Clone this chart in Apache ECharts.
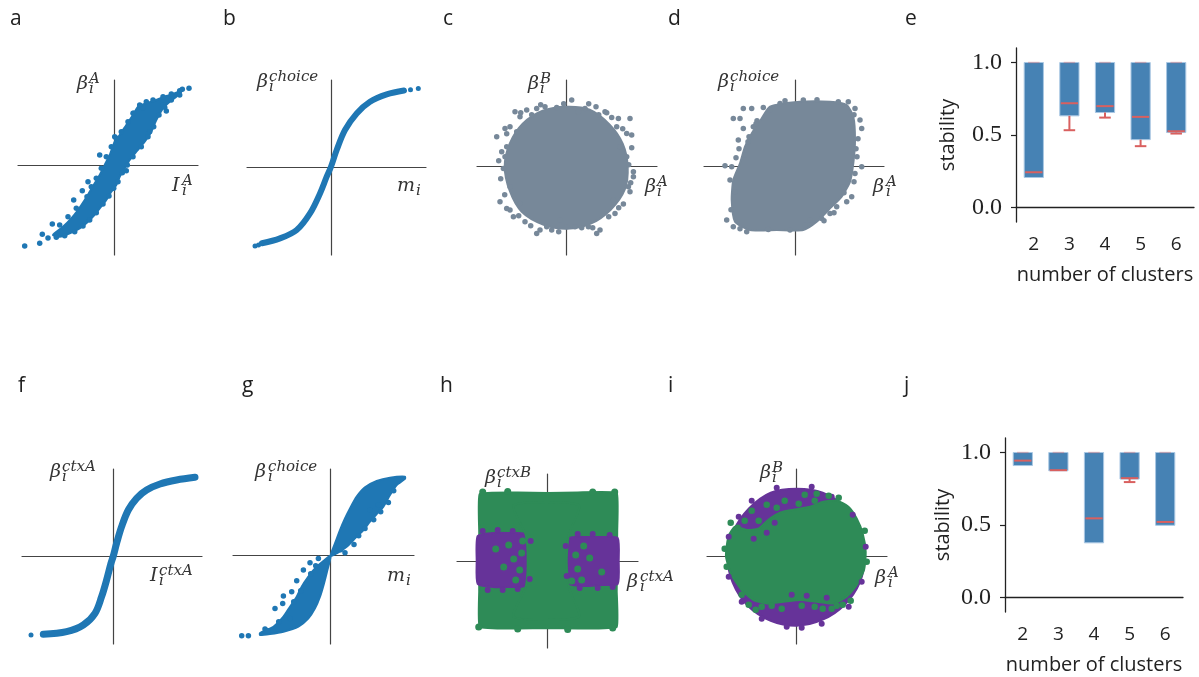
<!DOCTYPE html>
<html><head><meta charset="utf-8">
<script src="https://cdn.jsdelivr.net/npm/echarts@6/dist/echarts.min.js"></script>
<style>html,body{margin:0;background:#fff}#c{width:1199px;height:677px}</style>
</head><body><div id="c"></div>
<script>
// ---------- data (arbitrary units) ----------
// panel a : beta_A vs I_A (dense band + loose points)
const aBand = [[-6.1,-7.0],[-5.1,-6.17],[-4.27,-5.33],[-3.6,-4.5],[-2.93,-3.5],[-2.43,-2.67],[-1.93,-1.83],[-1.43,-1.0],[-0.93,0],[-0.43,1.0],[0.07,2.33],[0.57,3.0],[1.23,4.0],[1.9,5.0],[2.4,5.83],[3.23,6.17],[4.23,6.5],[5.23,6.9],[6.23,7.23],[6.9,7.57],[6.23,6.83],[5.57,6.33],[4.9,5.67],[4.23,4.5],[3.73,3.33],[3.07,2.33],[2.23,1.33],[1.57,0.5],[1.07,-0.33],[0.57,-1.17],[0.23,-2.0],[-0.27,-2.67],[-0.77,-3.5],[-1.43,-4.33],[-2.1,-5.17],[-2.77,-5.83],[-3.43,-6.33],[-4.43,-6.83],[-5.43,-7.17]];
const aDots = [[-8.93,-8.1],[-7.43,-7.83],[-7.17,-6.93],[-6.6,-7.3],[-6.17,-5.9],[-5.43,-6.0],[-4.03,-3.5],[-3.17,-2.57],[-2.6,-1.67],[-1.43,1.0],[0.07,2.83],[1.23,-0.57],[4.9,6.0],[2.9,5.73],[7.5,7.67],[6.83,7.57],[5.23,5.4],[3.57,3.33],[1.9,5.17],
 [-4.6,-5.17],[-3.77,-4.33],[-2.7,-3.17],[-2.27,-2.17],[-1.77,-1.33],[-1.27,-0.33],[-0.77,0.83],[-0.27,1.83],[0.23,2.67],[0.73,3.33],[1.4,4.33],[1.97,5.17],[2.57,6.0],[3.23,6.33],[3.9,6.5],[4.9,6.83],[5.73,7.1],[6.57,7.43],
 [6.57,7.0],[5.73,6.5],[5.07,5.77],[4.5,5.0],[3.97,3.83],[3.4,2.83],[2.73,1.83],[1.9,0.83],[1.33,0],[0.83,-0.77],[0.4,-1.67],[-0.03,-2.33],[-0.5,-3.1],[-1.1,-3.9],[-1.77,-4.77],[-2.43,-5.5],[-3.1,-6.1],[-3.93,-6.67],[-4.93,-7.07],[-5.77,-7.23]];
// panel b : beta_choice vs m
const bCurve = [[-6.9,-7.55],[-5.1,-7.07],[-3.43,-6.23],[-2.1,-4.57],[-1.1,-2.57],[-0.43,-0.9],[0,0.1],[0.57,1.77],[1.4,3.77],[2.57,5.43],[3.9,6.6],[5.57,7.33],[7.3,7.72]];
const bDots = [[-7.6,-7.83],[-7.25,-7.72],[7.95,7.8],[8.73,7.93]];
// panel c : beta_B vs beta_A
const cCore = [[6.1,0],[5.6,2.3],[4.3,4.2],[2.3,5.7],[0,6.0],[-2.4,5.6],[-4.4,4.3],[-5.7,2.3],[-6.2,0],[-5.7,-2.4],[-4.5,-4.5],[-2.3,-5.8],[0,-6.2],[2.4,-5.7],[4.4,-4.3],[5.8,-2.3]];
const cDots = [[-7.0,3.0],[-6.67,-3.5],[-6.0,-4.17],[-5.17,5.5],[-4.67,5.0],[-3.0,5.83],[-2.17,6.0],[0.5,6.67],[1.83,5.83],[2.93,6.0],[3.83,5.5],[4.5,4.93],[5.17,4.83],[6.33,4.83],[6.5,3.17],[6.67,-0.5],[6.67,-1.0],[6.33,-2.5],[5.67,-3.73],[4.83,-4.67],[3.33,-6.33],[3.0,-6.67],[2.17,-6.0],[0.83,-6.0],[0,-6.0],[-1.5,-6.33],[-2.67,-6.33],[-3.0,-6.67],[-4.17,-5.5],[-5.33,-5.0],[-5.67,-4.33],[-6.33,-0.17],[-6.17,1.0],[-6.0,2.0],[-6.17,3.83],[-5.67,4.0],[-4.0,5.67],[-1.0,5.93],[1.17,5.5],[5.33,2.0],[6.0,1.0],[6.17,-2.0],[4.67,-3.33],[-0.67,-5.33],[-4.67,-3.67],[6.0,3.33],[-5.67,-2.0],[-3.5,5.2],[3.2,5.2],[5.0,4.0],[-5.0,3.5],[4.2,-5.0],[-2.0,-6.0],[1.5,-6.1],[6.2,0.2],
 [-6.5,1.5],[-6.6,-1.2],[-6.2,-2.8],[-4.8,-4.9],[-3.6,-5.9],[-0.8,-6.5],[2.6,-6.1],[5.2,-4.1],[6.4,-1.6],[6.5,1.9],[5.6,3.8],[4.0,5.4],[2.2,6.3],[-0.3,6.3],[-2.6,6.2],[-4.6,5.4],[-6.0,3.3],[-6.8,0.6]];
// panel d : beta_choice vs beta_A
const dCore = [[-2.5,6.0],[0.5,6.5],[3.5,6.5],[5.17,6.17],[5.83,5.0],[6.0,2.67],[5.83,0.33],[5.5,-1.5],[4.67,-3.0],[3.5,-4.17],[2.17,-5.5],[0.83,-6.33],[-1.83,-6.33],[-4.5,-6.33],[-6.0,-5.5],[-6.33,-3.33],[-6.17,-1.33],[-5.5,0.33],[-5.0,2.0],[-4.33,3.33],[-3.33,4.83]];
const dDots = [[-5.17,5.83],[-4.33,5.83],[-3.17,5.93],[-6.17,4.83],[-5.5,4.83],[-5.17,3.83],[-5.67,2.67],[-5.0,1.17],[-7.0,0.1],[-6.33,0],[-6.5,-1.33],[-6.83,-5.33],[-6.17,-6.0],[-4.83,-6.5],[-2.67,-6.27],[-0.5,-6.33],[1.0,-5.83],[1.5,-5.33],[2.67,-5.17],[3.5,-4.67],[4.17,-4.0],[5.17,-3.5],[5.67,-3.0],[6.0,-0.67],[6.67,0],[6.67,3.83],[6.5,4.67],[6.0,5.83],[5.33,6.5],[4.33,6.5],[0.83,6.67],[-1.5,6.33],[-2.5,5.67],[-4.17,4.0],[4.83,-2.0],[-3.8,4.6],[-4.7,2.5],[-6.0,-2.5],[-5.5,-6.2],[6.1,1.8],[5.9,-1.5],[-1.0,6.6],[2.2,6.7],
 [-5.9,0.9],[-5.6,1.8],[-4.6,3.0],[-3.9,4.3],[-6.4,-4.3],[3.9,-4.6],[2.9,-5.4],[4.9,-2.6],[6.2,1.0],[6.3,2.8],[5.9,5.2]];
// panel f : beta_ctxA vs I_ctxA
const fCurve = [[-7.0,-7.83],[-4.67,-7.57],[-3.0,-6.9],[-1.83,-5.73],[-1.17,-4.07],[-0.67,-2.4],[-0.23,-0.73],[0,0],[0.33,1.27],[0.83,2.93],[1.5,4.6],[2.33,5.77],[3.33,6.6],[4.67,7.2],[6.33,7.6],[8.17,7.87]];
const fDots = [[-8.23,-7.9]];
// panel g : beta_choice vs m (thick band)
const gBandTop = [[0,0],[0.43,1.23],[0.93,2.57],[1.43,3.73],[1.93,4.73],[2.6,5.9],[3.43,6.83],[4.6,7.47],[5.93,7.8],[7.43,7.9],[7.43,7.7],[6.6,7.07],[5.93,6.07],[5.27,4.9],[4.6,4.17],[3.93,3.4],[3.27,2.57],[2.43,1.73],[1.6,0.9],[0.6,0.23]];
const gBandBottom = [[0,0],[-0.33,-1.43],[-0.67,-2.77],[-1.07,-4.1],[-1.57,-5.27],[-2.23,-6.27],[-3.23,-7.1],[-4.73,-7.6],[-6.07,-7.83],[-7.07,-7.93],[-7.07,-7.73],[-5.73,-7.1],[-4.73,-6.1],[-4.07,-5.1],[-3.4,-4.1],[-2.9,-3.1],[-2.23,-2.1],[-1.57,-1.27],[-0.73,-0.53]];
const gDots = [[-8.9,-8.0],[-8.23,-8.0],[-6.57,-7.33],[-5.57,-5.27],[-4.73,-4.03],[-3.9,-3.6],[-3.4,-2.5],[-4.8,-4.77],[-2.07,-0.7],[-1.23,-0.27],[-2.73,-1.43],[1.43,0.3],[2.33,1.13],[3.43,2.73],[4.77,5.07],[5.77,5.33],[3.93,4.57],[-4.07,-6.27],[-5.2,-6.6],[-3.0,-3.5],[-2.0,-1.8],[-3.7,-4.6],[2.8,2.0],[4.3,3.6],[5.0,4.4],[6.3,6.5],[-6.3,-7.5],[1.0,0.6],[-1.5,-1.0]];
// panel h : beta_ctxB vs beta_ctxA
const hGreenBase = [[-6.8,6.7],[-3,6.85],[0,6.8],[3,6.85],[6.9,6.8],[6.95,3],[6.9,-3],[6.9,-6.6],[3,-6.75],[0,-6.7],[-3,-6.75],[-6.8,-6.6],[-6.85,-3],[-6.85,3]];
const hPurpleLeft = [[-7.0,2.5],[-5.5,2.8],[-4.0,2.8],[-2.3,2.7],[-2.0,1.0],[-2.0,-1.0],[-2.3,-2.5],[-4.0,-2.6],[-5.5,-2.6],[-7.0,-2.3],[-7.1,0]];
const hPurpleRight = [[2.2,2.3],[4.0,2.4],[5.5,2.4],[7.0,2.3],[7.1,0],[7.0,-2.3],[5.5,-2.4],[4.0,-2.5],[2.2,-2.3],[2.0,0]];
const hPurpleDots = [[-6.5,3.0],[-5.0,3.1],[-3.5,3.0],[-6.0,-2.9],[-4.5,-2.9],[-3.0,-2.8],[-1.7,2.0],[-1.8,-1.8],[3.0,2.7],[4.5,2.7],[6.2,2.6],[3.2,-2.7],[5.0,-2.7],[6.5,-2.6],[1.8,1.5],[1.9,-1.5]];
const hGreenColumn = [[-3.4,5.6],[3.1,5.6],[2.1,2.6],[1.9,0],[2.1,-2.6],[3.1,-5.6],[-3.4,-5.6],[-2.2,-2.6],[-2.0,0],[-2.2,2.6]];
const hGreenDots = [[-6.5,6.9],[-4.0,6.95],[4.5,6.9],[6.7,6.9],[-6.9,-6.6],[-3.0,-6.8],[2.0,-6.85],[6.5,-6.7],
 [-2.6,0.8],[-2.8,-0.9],[-3.4,0.2],[-3.9,1.6],[-3.2,-1.9],[-4.4,-0.6],[2.8,0.6],[3.0,-0.8],[3.6,1.5],[3.4,-1.9],[4.2,0.3],[-2.5,2.0],[2.4,-2.0],[-5.2,1.2],[5.4,-1.1]];
// panel i : beta_B vs beta_A
const iPurpleCore = [[6.8,0],[6.3,2.6],[4.9,4.9],[2.6,6.4],[0,6.8],[-2.6,6.4],[-4.8,4.8],[-6.3,2.6],[-6.9,0],[-6.4,-2.6],[-4.9,-4.9],[-2.6,-6.4],[0,-6.9],[2.6,-6.3],[4.8,-4.8],[6.3,-2.6]];
const iPurpleDots = [[-4.5,5.6],[-2.0,6.9],[1.5,7.0],[3.5,6.0],[5.6,4.2],[-5.8,4.0],[-6.8,2.0],[6.9,1.0],[6.5,-2.5],[5.2,-5.0],[2.5,-6.7],[-1.0,-7.0],[-3.5,-6.2],[-5.5,-4.5],[-6.8,-2.0],[0.5,-7.1],[-3.0,2.4],[-2.2,3.4],[-4.3,1.8],[1.0,-3.9],[-0.5,-3.8],[3.0,-4.1]];
const iGreenCore = [[-7.07,0],[-6.83,2.0],[-6.17,3.0],[-5.0,2.67],[-3.83,2.8],[-2.83,3.7],[-1.67,4.4],[-0.33,4.7],[1.33,5.0],[2.67,5.5],[4.0,5.6],[5.17,5.0],[6.0,3.83],[6.6,2.33],[6.9,0.5],[6.73,-1.33],[6.0,-2.83],[5.0,-4.0],[3.67,-4.67],[2.0,-4.5],[0.33,-4.33],[-1.33,-4.5],[-3.0,-4.67],[-4.33,-4.33],[-5.5,-3.33],[-6.5,-1.83]];
const iGreenDots = [[-5.2,3.6],[-4.5,4.6],[-3.8,3.6],[-3.0,5.2],[-1.2,5.6],[0.8,6.2],[2.0,6.3],[4.2,5.9],[-5.5,-3.8],[-4.8,-4.8],[-3.5,-5.0],[-1.5,-5.2],[1.8,-5.0],[3.5,-5.2],[4.6,-4.8],[5.4,-4.4],[-6.6,3.4],[6.8,2.6],[-7.2,0.8],[-7.0,-1.0],[7.0,-0.5],
 [-2.0,4.9],[0.2,5.3],[1.8,5.6],[3.2,6.1],[-4.1,-5.3],[-2.5,-4.9],[0.5,-4.9],[2.6,-5.2],[4.0,-4.9],[-5.9,2.9]];
// panels e and j : stability vs number of clusters
const clusters = ['2','3','4','5','6'];
const eQ1     = [0.207,0.632,0.655,0.468,0.517];
const eMedian = [0.243,0.719,0.699,0.625,0.526];
const eMin    = [0.207,0.533,0.620,0.423,0.510];
const eMax    = [1.0,1.0,1.0,1.0,1.0];
const jQ1     = [0.910,0.874,0.377,0.817,0.498];
const jMedian = [0.944,0.878,0.546,0.823,0.521];
const jMin    = [0.910,0.874,0.377,0.796,0.498];
const jMax    = [1.0,1.0,1.0,1.0,1.0];
const stabilityTicks = [0, 0.5, 1.0];

// ---------- layout / style ----------
const BLUE='#1f77b4', GRAY='#778899', GREEN='#2e8b57', PURPLE='#663399', BAR='#4682b4', RED='#d9605f', AX='#444';
const panels = [
 {left:18, top:80, width:180, height:175, x:[-9.6,8.4], y:[-9.0,8.5]},
 {left:247,top:80, width:179, height:175, x:[-8.4,9.5], y:[-8.73,8.77]},
 {left:477,top:80, width:180, height:175, x:[-8.97,9.03], y:[-8.83,8.67]},
 {left:704,top:80, width:180, height:175, x:[-9.1,8.9], y:[-8.83,8.67]},
 {left:22, top:469,width:180, height:175, x:[-9.13,8.87], y:[-8.8,8.7]},
 {left:233,top:469,width:181, height:175, x:[-9.77,8.33], y:[-8.83,8.67]},
 {left:457,top:474,width:181, height:174, x:[-9.07,9.03], y:[-8.7,8.7]},
 {left:707,top:469,width:180, height:175, x:[-8.97,9.03], y:[-8.73,8.77]}
];
const barGrids = [{left:1016, top:48, width:178, height:174, gap:58},{left:1005, top:438, width:178, height:174, gap:52}];

const grid=[], xAxis=[], yAxis=[], series=[];
panels.forEach((p,i)=>{
  grid.push({left:p.left, top:p.top, width:p.width, height:p.height});
  const ax = {gridIndex:i, type:'value', axisLine:{onZero:true, lineStyle:{color:AX,width:1.2}}, axisTick:{show:false}, axisLabel:{show:false}, splitLine:{show:false}};
  xAxis.push(Object.assign({}, ax, {min:p.x[0], max:p.x[1]}));
  yAxis.push(Object.assign({}, ax, {min:p.y[0], max:p.y[1]}));
});
barGrids.forEach((g,k)=>{
  const gi = panels.length + k;
  grid.push({left:g.left, top:g.top, width:g.width, height:g.height});
  xAxis.push({gridIndex:gi, type:'category', data:clusters, boundaryGap:true,
    name:'number of clusters', nameLocation:'middle', nameGap:43, nameTextStyle:{fontFamily:'Open Sans', fontSize:20, color:'#222'},
    axisLine:{lineStyle:{color:'#222', width:1.3}}, axisTick:{alignWithLabel:true, length:5, lineStyle:{color:'#222',width:1.2}},
    axisLabel:{fontFamily:'Open Sans', fontSize:19, color:'#222', margin:13}, splitLine:{show:false}});
  yAxis.push({gridIndex:gi, type:'value', min:-0.1, max:1.1,
    name:'stability', nameLocation:'middle', nameGap:g.gap, nameRotate:90, nameTextStyle:{fontFamily:'Open Sans', fontSize:20, color:'#222'},
    axisLine:{show:true, lineStyle:{color:'#222', width:1.3}}, axisTick:{show:true, length:5, customValues:stabilityTicks, lineStyle:{color:'#222',width:1.2}},
    axisLabel:{customValues:stabilityTicks, formatter:v=>v.toFixed(1), fontFamily:'Liberation Serif', fontSize:24, color:'#222', margin:14}, splitLine:{show:false}});
});

function poly(gi, pts, color, smooth){
  return {type:'custom', coordinateSystem:'cartesian2d', xAxisIndex:gi, yAxisIndex:gi, data:pts, silent:true, clip:false, animation:false,
    renderItem:(params, api)=>{
      if(params.dataIndex!==0) return null;
      return {type:'polygon', shape:{points:pts.map(q=>api.coord(q)), smooth:smooth||0}, style:{fill:color, stroke:color, lineWidth:2}};
    }};
}
function scat(gi, pts, color, size){
  return {type:'scatter', xAxisIndex:gi, yAxisIndex:gi, data:pts, symbolSize:size, itemStyle:{color:color, opacity:1}, silent:true, animation:false};
}
function curve(gi, pts, color, width){
  return {type:'line', xAxisIndex:gi, yAxisIndex:gi, data:pts, smooth:0.35, symbol:'none', lineStyle:{color:color, width:width, cap:'round'}, silent:true, animation:false};
}
function boxes(gi, q1, med, mn, mx){
  const data = clusters.map((c,k)=>[k, q1[k], med[k], mx[k], mn[k]]);
  return {type:'custom', xAxisIndex:gi, yAxisIndex:gi, data:data, encode:{x:0, y:[1,2,3,4]}, silent:true, animation:false,
    renderItem:(p, api)=>{
      const k=api.value(0);
      const pt=api.coord([k,api.value(3)]), pa=api.coord([k,api.value(1)]), pm=api.coord([k,api.value(2)]), pl=api.coord([k,api.value(4)]);
      const bw=api.size([1,0])[0]*0.54, x0=pt[0]-bw/2;
      const ch=[{type:'rect', shape:{x:x0, y:pt[1], width:bw, height:pa[1]-pt[1]}, style:{fill:BAR, stroke:'#a9c7e3', lineWidth:1}}];
      if(pl[1]-pa[1]>1){
        ch.push({type:'line', shape:{x1:pt[0], y1:pa[1], x2:pt[0], y2:pl[1]}, style:{stroke:RED, lineWidth:2}});
        ch.push({type:'line', shape:{x1:pt[0]-bw*0.3, y1:pl[1], x2:pt[0]+bw*0.3, y2:pl[1]}, style:{stroke:RED, lineWidth:2}});
      }
      ch.push({type:'line', shape:{x1:x0+1, y1:pm[1], x2:x0+bw-1, y2:pm[1]}, style:{stroke:RED, lineWidth:2}});
      ch.push({type:'line', shape:{x1:pt[0]-bw*0.3, y1:pt[1], x2:pt[0]+bw*0.3, y2:pt[1]}, style:{stroke:'rgba(217,96,95,0.35)', lineWidth:1.5}});
      return {type:'group', children:ch};
    }};
}

// a
series.push(poly(0, aBand, BLUE, 0.2), scat(0, aDots, BLUE, 5.5));
// b
series.push(curve(1, bCurve, BLUE, 6), scat(1, bDots, BLUE, 5));
// c
series.push(poly(2, cCore, GRAY, 0.3), scat(2, cDots, GRAY, 5.5));
// d
series.push(poly(3, dCore, GRAY, 0.2), scat(3, dDots, GRAY, 5.5));
// f
series.push(curve(4, fCurve, BLUE, 7), scat(4, fDots, BLUE, 5));
// g
series.push(poly(5, gBandTop, BLUE, 0.2), poly(5, gBandBottom, BLUE, 0.2), scat(5, gDots, BLUE, 5.5));
// h
series.push(poly(6, hGreenBase, GREEN, 0.1), poly(6, hPurpleLeft, PURPLE, 0.2), poly(6, hPurpleRight, PURPLE, 0.2), scat(6, hPurpleDots, PURPLE, 6),
  poly(6, hGreenColumn, GREEN, 0.2), scat(6, hGreenDots, GREEN, 7));
// i
series.push(poly(7, iPurpleCore, PURPLE, 0.3), scat(7, iPurpleDots, PURPLE, 6), poly(7, iGreenCore, GREEN, 0.2), scat(7, iGreenDots, GREEN, 6.5));
// e, j
series.push(boxes(8, eQ1, eMedian, eMin, eMax), boxes(9, jQ1, jMedian, jMin, jMax));

// ---------- text ----------
const graphic=[];
const letters=[['a',10,30],['b',223,30],['c',443,30],['d',668,30],['e',905,30],['f',18,397],['g',242,397],['h',440,397],['i',668,397],['j',904,397]];
letters.forEach(l=>graphic.push({type:'text', x:l[1], y:l[2], silent:true, style:{text:l[0], fill:'#222', font:'21px "Open Sans"', align:'left', verticalAlign:'bottom'}}));
const BF=19, SF=15;
function math(base, x, yb, sup, sub, sx){
  graphic.push({type:'text', x:x, y:yb+4, silent:true, style:{text:base, fill:'#333', font:'italic '+BF+'px "DejaVu Serif"', align:'left', verticalAlign:'bottom'}});
  if(sup) graphic.push({type:'text', x:sx, y:yb-3, silent:true, style:{text:sup, fill:'#333', font:'italic '+SF+'px "DejaVu Serif"', align:'left', verticalAlign:'bottom'}});
  if(sub) graphic.push({type:'text', x:sx, y:yb+7, silent:true, style:{text:sub, fill:'#333', font:'italic '+SF+'px "DejaVu Serif"', align:'left', verticalAlign:'bottom'}});
}
math('β',77,90,'A','i',89);
math('I',172,192,'A','i',182);
math('β',257,88,'choice','i',269);
math('m',397,192,'','i',416);
math('β',528,90,'B','i',540);
math('β',645,193,'A','i',657);
math('β',718,88,'choice','i',730);
math('β',873,193,'A','i',886);
math('β',50,478,'ctxA','i',62);
math('I',150,582,'ctxA','i',159);
math('β',255,478,'choice','i',268);
math('m',387,582,'','i',406);
math('β',485,484,'ctxB','i',497);
math('β',627,588,'ctxA','i',640);
math('β',760,479,'B','i',772);
math('β',875,584,'A','i',888);

const chart = echarts.init(document.getElementById('c'), null, {renderer:'canvas'});
chart.setOption({animation:false, backgroundColor:'#fff', grid, xAxis, yAxis, series, graphic});
</script></body></html>
